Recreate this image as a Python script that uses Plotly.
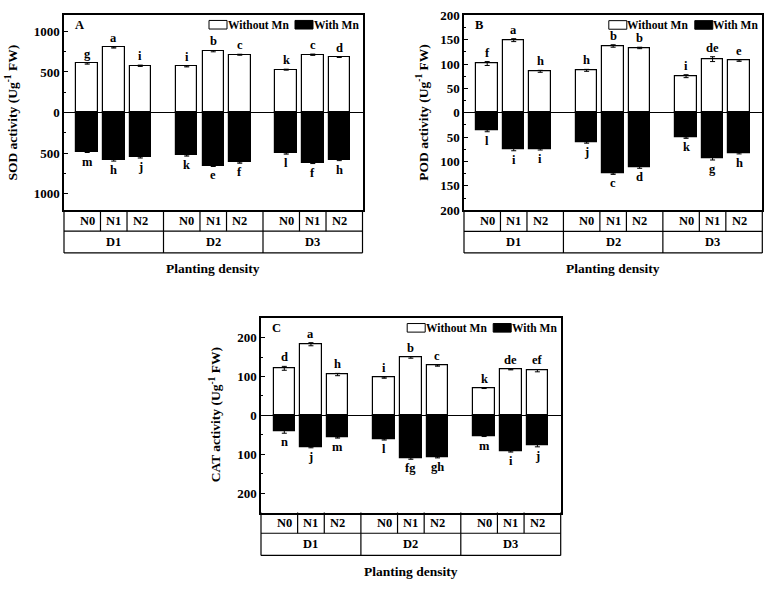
import plotly.graph_objects as go

# ---------------- data ----------------
densities = ["D1", "D2", "D3"]
nitrogen = ["N0", "N1", "N2"]

sod_without = [604, 800, 576, 568, 756, 712, 528, 712, 684]
sod_without_err = [8, 6, 8, 6, 8, 6, 6, 8, 6]
sod_with = [484, 588, 552, 528, 656, 616, 504, 620, 584]
sod_with_err = [8, 10, 8, 8, 8, 8, 8, 8, 8]
sod_letters_top = ["g", "a", "i", "i", "b", "c", "k", "c", "d"]
sod_letters_bot = ["m", "h", "j", "k", "e", "f", "l", "f", "h"]

pod_without = [101, 149, 85, 87, 137, 133, 75, 110, 107]
pod_without_err = [4, 3, 2, 2, 2.5, 1.5, 3, 5, 1.5]
pod_with = [37, 75, 75, 61, 125, 112, 51, 93, 83]
pod_with_err = [2, 3, 1.5, 1.5, 1.5, 2, 1.5, 4, 1.5]
pod_letters_top = ["f", "a", "h", "h", "b", "b", "i", "de", "e"]
pod_letters_bot = ["l", "i", "i", "j", "c", "d", "k", "g", "h"]

cat_without = [121, 183, 105, 97, 149, 128, 70, 118, 115]
cat_without_err = [5, 4, 3, 1.5, 2, 1.5, 1, 1, 3]
cat_with = [42, 82, 57, 62, 111, 108, 53, 93, 78]
cat_with_err = [4, 1.5, 1.5, 1.5, 2, 1.5, 1.5, 1.5, 3]
cat_letters_top = ["d", "a", "h", "i", "b", "c", "k", "de", "ef"]
cat_letters_bot = ["n", "j", "m", "l", "fg", "gh", "m", "i", "j"]

sod_ticks = [1000, 500, 0, -500, -1000]
pod_ticks = [200, 150, 100, 50, 0, -50, -100, -150, -200]
cat_ticks = [200, 100, 0, -100, -200]

# ---------------- layout helpers ----------------
W, H = 767, 590
GROUP_STEP = 3.75
XR = [-0.875, 10.375]
positions = [gi * GROUP_STEP + ni for gi in range(len(densities)) for ni in range(len(nitrogen))]


def fx(px):
    return px / W


def fy(py):
    return 1 - py / H


FONT = "Liberation Serif"

panels = [
    dict(tag="A", name="SOD", top_v=sod_without, top_e=sod_without_err, bot_v=sod_with, bot_e=sod_with_err,
         lt=sod_letters_top, lb=sod_letters_bot, ticks=sod_ticks, minor=[750, 250, -250, -750],
         yr=[-1200, 1200], left=64, right=362.5, top=8.3, bottom=208.3, nb=230, db=252.3, xl=268, ytx=12),
    dict(tag="B", name="POD", top_v=pod_without, top_e=pod_without_err, bot_v=pod_with, bot_e=pod_with_err,
         lt=pod_letters_top, lb=pod_letters_bot, ticks=pod_ticks, minor=[175, 125, 75, 25, -25, -75, -125, -175],
         yr=[-200, 200], left=464, right=762.3, top=8.5, bottom=208.5, nb=230.3, db=252.3, xl=268, ytx=423),
    dict(tag="C", name="CAT", top_v=cat_without, top_e=cat_without_err, bot_v=cat_with, bot_e=cat_with_err,
         lt=cat_letters_top, lb=cat_letters_bot, ticks=cat_ticks, minor=[150, 50, -50, -150],
         yr=[-250, 250], left=261, right=560.7, top=319.3, bottom=518.7, nb=540, db=562.7, xl=579.3, ytx=215),
]

fig = go.Figure()
shapes = []
annotations = []
layout_axes = {}

for i, p in enumerate(panels, start=1):
    xa = "x" if i == 1 else f"x{i}"
    ya = "y" if i == 1 else f"y{i}"
    xkey = "xaxis" if i == 1 else f"xaxis{i}"
    ykey = "yaxis" if i == 1 else f"yaxis{i}"

    fig.add_trace(go.Bar(
        x=positions, y=p["top_v"], width=0.81, xaxis=xa, yaxis=ya,
        marker=dict(color="white", line=dict(color="black", width=1.2)),
        error_y=dict(type="data", array=p["top_e"], color="black", thickness=1, width=2.5),
        name="Without Mn", showlegend=False))
    fig.add_trace(go.Bar(
        x=positions, y=[-v for v in p["bot_v"]], width=0.81, xaxis=xa, yaxis=ya,
        marker=dict(color="black", line=dict(color="black", width=1.2)),
        error_y=dict(type="data", array=p["bot_e"], color="black", thickness=1, width=2.5),
        name="With Mn", showlegend=False))

    layout_axes[xkey] = dict(
        domain=[fx(p["left"]), fx(p["right"])], range=XR, anchor=ya,
        showgrid=False, zeroline=False, showticklabels=False, ticks="",
        showline=True, mirror=True, linecolor="black", linewidth=1.5, fixedrange=True)
    layout_axes[ykey] = dict(
        domain=[fy(p["bottom"]), fy(p["top"])], range=p["yr"], anchor=xa,
        showgrid=False, zeroline=True, zerolinecolor="black", zerolinewidth=1.2,
        tickmode="array", tickvals=p["ticks"], ticktext=[f"<b>{abs(t)}</b>" for t in p["ticks"]],
        ticks="inside", ticklen=4.5, tickwidth=1.2, tickcolor="black",
        tickfont=dict(family=FONT, size=13, color="black"),
        minor=dict(tickmode="array", tickvals=p["minor"], ticks="inside", ticklen=2.5,
                   tickwidth=1, tickcolor="black"),
        showline=True, mirror=True, linecolor="black", linewidth=1.5, fixedrange=True)

    # significance letters
    for k, pos in enumerate(positions):
        annotations.append(dict(
            x=pos, y=p["top_v"][k] + p["top_e"][k], xref=xa, yref=ya, text=f"<b>{p['lt'][k]}</b>",
            showarrow=False, yanchor="bottom", xanchor="center", yshift=0,
            font=dict(family=FONT, size=12.5, color="black")))
        annotations.append(dict(
            x=pos, y=-(p["bot_v"][k] + p["bot_e"][k]), xref=xa, yref=ya, text=f"<b>{p['lb'][k]}</b>",
            showarrow=False, yanchor="top", xanchor="center", yshift=0,
            font=dict(family=FONT, size=12.5, color="black")))

    # category table
    lw = dict(color="black", width=1.2)
    for yy in (p["nb"], p["db"]):
        shapes.append(dict(type="line", xref=f"{xa} domain", yref="paper", x0=0, x1=1,
                           y0=fy(yy), y1=fy(yy), line=lw))
    for xd in (0, 1):
        shapes.append(dict(type="line", xref=f"{xa} domain", yref="paper", x0=xd, x1=xd,
                           y0=fy(p["bottom"]), y1=fy(p["db"]), line=lw))
    for k in range(len(positions) - 1):
        mid = (positions[k] + positions[k + 1]) / 2
        shapes.append(dict(type="line", xref=xa, yref="paper", x0=mid, x1=mid,
                           y0=fy(p["bottom"]), y1=fy(p["nb"]), line=lw))
        if (k + 1) % len(nitrogen) == 0:
            shapes.append(dict(type="line", xref=xa, yref="paper", x0=mid, x1=mid,
                               y0=fy(p["nb"]), y1=fy(p["db"]), line=lw))
    for k, pos in enumerate(positions):
        annotations.append(dict(
            x=pos, y=fy((p["bottom"] + p["nb"]) / 2), xref=xa, yref="paper",
            text=f"<b>{nitrogen[k % 3]}</b>", showarrow=False, xanchor="center", yanchor="middle",
            font=dict(family=FONT, size=12.5, color="black")))
    for gi, d in enumerate(densities):
        annotations.append(dict(
            x=gi * GROUP_STEP + 1, y=fy((p["nb"] + p["db"]) / 2), xref=xa, yref="paper",
            text=f"<b>{d}</b>", showarrow=False, xanchor="center", yanchor="middle",
            font=dict(family=FONT, size=12.5, color="black")))

    # x title
    annotations.append(dict(
        x=fx((p["left"] + p["right"]) / 2), y=fy(p["xl"]), xref="paper", yref="paper",
        text="<b>Planting density</b>", showarrow=False, xanchor="center", yanchor="middle",
        font=dict(family=FONT, size=13.5, color="black")))
    # y title
    annotations.append(dict(
        x=fx(p["ytx"]), y=fy((p["top"] + p["bottom"]) / 2), xref="paper", yref="paper",
        text=f"<b>{p['name']} activity (Ug<sup>-1</sup> FW)</b>", showarrow=False, textangle=-90,
        xanchor="center", yanchor="middle", font=dict(family=FONT, size=13.5, color="black")))
    # panel tag
    annotations.append(dict(
        x=fx(p["left"] + 8.5), y=fy(p["top"] + 10), xref="paper", yref="paper",
        text=f"<b>{p['tag']}</b>", showarrow=False, xanchor="left", yanchor="middle",
        font=dict(family=FONT, size=12.5, color="black")))

    # legend
    r = p["right"]
    by0, by1 = p["top"] + 5.5, p["top"] + 14.3
    shapes.append(dict(type="rect", xref="paper", yref="paper", x0=fx(r - 153.5), x1=fx(r - 135.5),
                       y0=fy(by1), y1=fy(by0), fillcolor="white", line=dict(color="black", width=1)))
    shapes.append(dict(type="rect", xref="paper", yref="paper", x0=fx(r - 67.5), x1=fx(r - 49.5),
                       y0=fy(by1), y1=fy(by0), fillcolor="black", line=dict(color="black", width=1)))
    annotations.append(dict(
        x=fx(r - 135), y=fy((by0 + by1) / 2), xref="paper", yref="paper", text="<b>Without Mn</b>",
        showarrow=False, xanchor="left", yanchor="middle", xshift=-2,
        font=dict(family=FONT, size=11.5, color="black")))
    annotations.append(dict(
        x=fx(r - 49), y=fy((by0 + by1) / 2), xref="paper", yref="paper", text="<b>With Mn</b>",
        showarrow=False, xanchor="left", yanchor="middle", xshift=-2,
        font=dict(family=FONT, size=11.5, color="black")))

fig.update_layout(
    width=W, height=H, margin=dict(l=0, r=0, t=0, b=0, pad=0),
    paper_bgcolor="white", plot_bgcolor="white", barmode="relative", bargap=0,
    font=dict(family=FONT, size=12, color="black"),
    shapes=shapes, annotations=annotations, showlegend=False, **layout_axes)

fig.write_html("out.html")
